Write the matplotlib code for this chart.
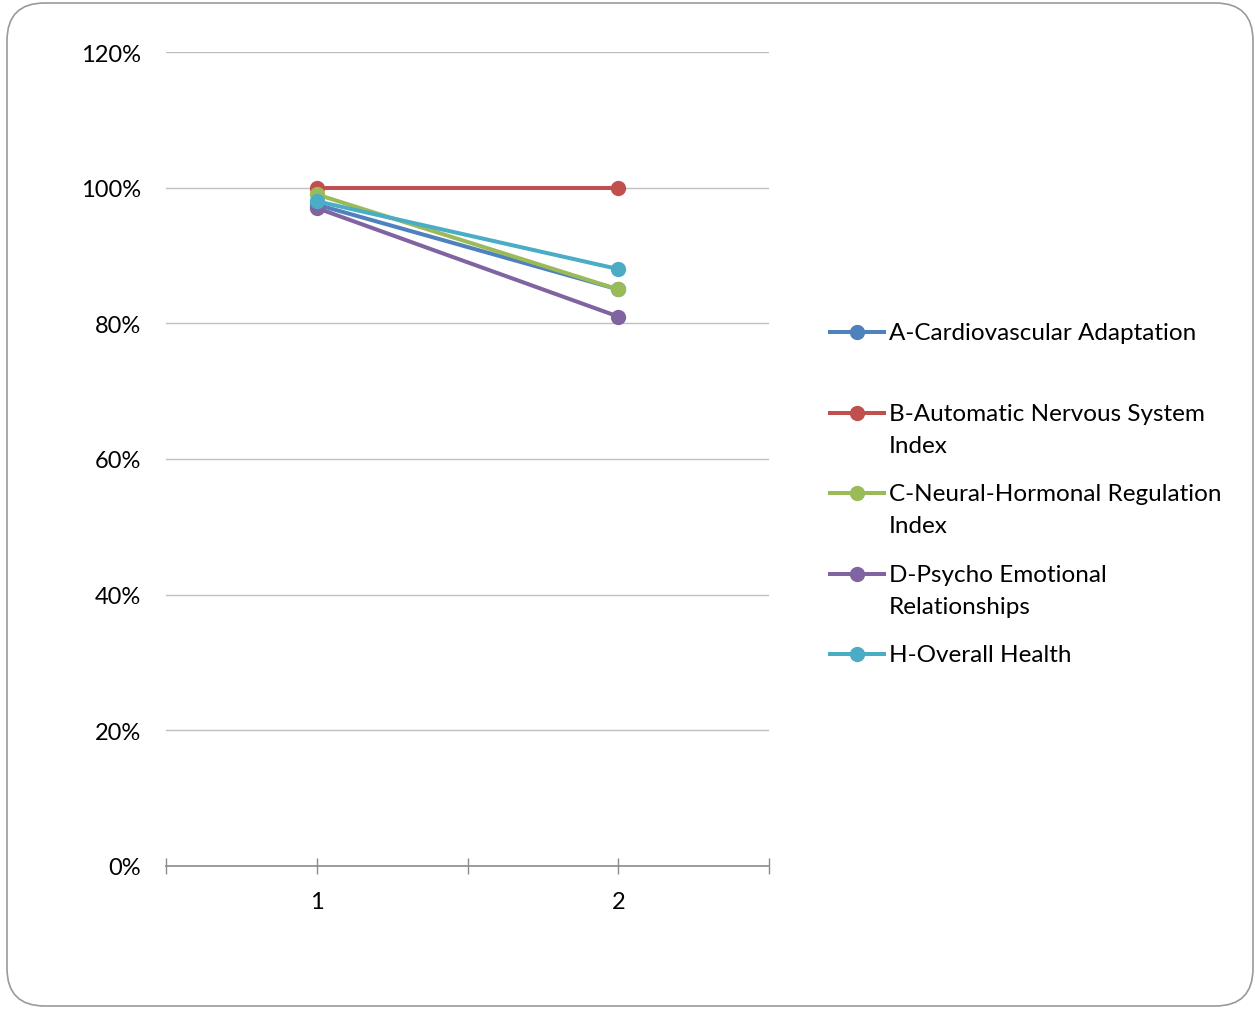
import matplotlib
matplotlib.use("Agg")
import matplotlib.pyplot as plt
from matplotlib.patches import FancyBboxPatch
from matplotlib.lines import Line2D
from matplotlib.ticker import FuncFormatter, FixedLocator

# Measurement rounds and percentages for each index
rounds = [1, 2]
series_labels = [
    "A-Cardiovascular Adaptation",
    "B-Automatic Nervous System\nIndex",
    "C-Neural-Hormonal Regulation\nIndex",
    "D-Psycho Emotional\nRelationships",
    "H-Overall Health",
]
a_cardio = [97.5, 85]
b_autonomic = [100, 100]
c_neural = [99, 85]
d_psycho = [97, 81]
h_overall = [98, 88]
series_values = [a_cardio, b_autonomic, c_neural, d_psycho, h_overall]
colors = ["#4F81BD", "#C0504D", "#9BBB59", "#8064A2", "#4BACC6"]

plt.rcParams["font.family"] = ["Lato", "DejaVu Sans"]

W, H = 1255, 1012
LW, MS = 2.9, 10
fig = plt.figure(figsize=(W / 100, H / 100), dpi=100)
fig.patch.set_facecolor("white")

# rounded frame around the whole chart
frame = FancyBboxPatch((7 / W, 5 / H), (1246 / W), (1003 / H),
                       boxstyle="round,pad=0,rounding_size=0.03",
                       transform=fig.transFigure, facecolor="none",
                       edgecolor="#9a9a9a", linewidth=1.2,
                       mutation_aspect=W / H)
fig.patches.append(frame)

ax = fig.add_axes([166 / W, (H - 867) / H, (769 - 166) / W, (867 - 53) / H])

for vals, col in zip(series_values, colors):
    ax.plot(rounds, vals, color=col, linewidth=LW, marker="o",
            markersize=MS, solid_capstyle="round", zorder=3)

ax.set_xlim(0.5, 2.5)
ax.set_ylim(0, 120)
ax.yaxis.set_major_locator(FixedLocator(range(0, 121, 20)))
ax.yaxis.set_major_formatter(FuncFormatter(lambda v, _: f"{v:.0f}%"))
ax.grid(axis="y", color="#bfbfbf", linewidth=1.0, zorder=0)
ax.set_axisbelow(True)

ax.xaxis.set_major_locator(FixedLocator(rounds))
ax.xaxis.set_minor_locator(FixedLocator([0.5, 1.5, 2.5]))
ax.tick_params(axis="x", which="both", direction="inout", length=12,
               width=1.0, color="#8c8c8c")
ax.tick_params(axis="x", which="major", pad=12, labelsize=17,
               labelcolor="black")
ax.tick_params(axis="y", length=0, pad=18, labelsize=17, labelcolor="black")

for side in ("top", "right", "left"):
    ax.spines[side].set_visible(False)
ax.spines["bottom"].set_color("#8c8c8c")
ax.spines["bottom"].set_linewidth(1.2)

# legend drawn by hand to keep Excel-like spacing
legend_y = [333, 414, 494, 575, 655]
for lab, col, y in zip(series_labels, colors, legend_y):
    yf = (H - y) / H
    fig.add_artist(Line2D([830 / W, 884 / W], [yf, yf], transform=fig.transFigure,
                          color=col, linewidth=LW))
    fig.add_artist(Line2D([857 / W], [yf], transform=fig.transFigure,
                          color=col, marker="o", markersize=MS))
    fig.text(889 / W, yf + 10 / H, lab, fontsize=17.5, va="top", ha="left",
             linespacing=1.65, transform=fig.transFigure)

fig.savefig("out.png", dpi=100, facecolor="white")
